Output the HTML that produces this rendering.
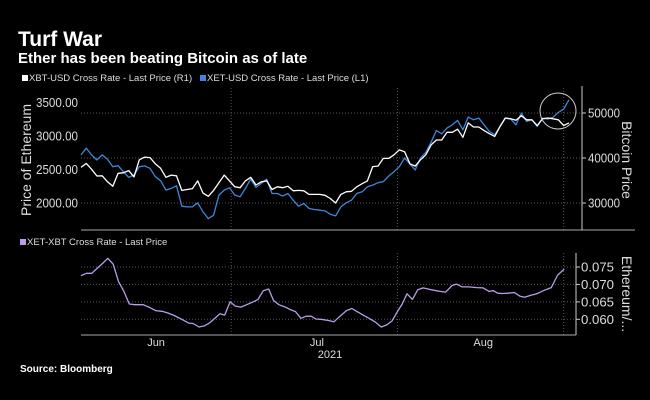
<!DOCTYPE html>
<html><head><meta charset="utf-8"><style>
html,body{margin:0;padding:0;background:#000;}
svg{display:block;font-family:"Liberation Sans","DejaVu Sans",sans-serif;}
</style></head><body>
<svg id="chart" width="650" height="400" viewBox="0 0 650 400" xmlns="http://www.w3.org/2000/svg">
<rect width="650" height="400" fill="#000"/>
<text x="18" y="46" fill="#fff" font-size="21" font-weight="bold">Turf War</text>
<text x="18" y="63" fill="#fff" font-size="15" font-weight="bold">Ether has been beating Bitcoin as of late</text>
<g>
<rect x="22" y="75" width="6" height="6" fill="#fff"/>
<text x="29" y="81" fill="#ddd" font-size="9.5">XBT-USD Cross Rate - Last Price (R1)</text>
<rect x="200" y="75" width="6" height="6" fill="#3d86d8"/>
<text x="207" y="81" fill="#ddd" font-size="9.5">XET-USD Cross Rate - Last Price (L1)</text>
</g>
<g>
<rect x="20" y="239" width="6" height="6" fill="#b89de8"/>
<text x="27" y="245" fill="#ddd" font-size="9.5">XET-XBT Cross Rate - Last Price</text>
</g>
<g id="grid"></g>
<g id="axes"></g>
<g id="series"></g>
<text transform="translate(31,160) rotate(-90)" text-anchor="middle" fill="#ddd" font-size="13.5" textLength="112" lengthAdjust="spacingAndGlyphs">Price of Ethereum</text>
<text transform="translate(622,160) rotate(90)" text-anchor="middle" fill="#ddd" font-size="14">Bitcoin Price</text>
<text transform="translate(622,294) rotate(90)" text-anchor="middle" fill="#ddd" font-size="14">Ethereum/...</text>
<text x="330" y="358" text-anchor="middle" fill="#ddd" font-size="11">2021</text>
<text x="20" y="372" fill="#fff" font-size="10" font-weight="bold">Source: Bloomberg</text>
<ellipse cx="558" cy="111" rx="18" ry="18" fill="none" stroke="#ccc" stroke-width="1"/>
</svg>
<script>
const ethValues=[2710,2810,2710,2635,2710,2645,2535,2550,2460,2375,2410,2535,2545,2510,2385,2325,2185,2210,2250,1945,1935,1935,1995,1860,1760,1810,2110,2185,2220,2110,2085,2210,2350,2225,2285,2350,2135,2135,2095,2135,2035,1945,1985,1910,1895,1885,1875,1825,1800,1935,1995,2035,2135,2160,2235,2260,2295,2310,2395,2460,2535,2665,2575,2485,2665,2750,2900,3075,3025,3110,3160,3225,3085,3275,3235,3260,3160,3060,3010,3135,3260,3245,3160,3335,3210,3235,3135,3260,3245,3275,3345,3395,3535];
const btcValues=[37900,38800,37500,36000,36050,34700,33700,36600,36700,37200,35800,39600,40200,40100,38700,37700,35700,36200,36050,32800,33000,33200,34900,32200,31500,32800,34500,36200,34900,33600,33400,34900,35700,34000,34700,34900,33000,33600,33400,33700,32700,32800,32700,31900,31900,31900,31700,31000,30000,31900,32500,32600,33600,34300,34900,38100,38200,39900,39900,40700,41800,41400,38700,38200,39600,40700,42900,44000,44000,45700,45700,46400,44600,47800,46900,46900,46100,45400,44800,47000,48900,48700,48400,49400,48500,48500,47200,48700,48900,48700,48500,47200,47800];
const ratioDays=[0,1,2,3,4,5,6,7,8,9,10,11.6,12.8,13.9,15.1,16.2,17.4,18.9,20.1,20.9,22,23,24,25.1,25.9,26.8,27.8,28.8,29.8,30.9,32.1,33,34,35,35.9,36.9,38.1,39,40,41,42,42.9,43.8,44.8,46,47.2,48.3,49.5,50.5,51.4,52.6,53.7,54.9,56,57,58,59,59.9,60.8,61.8,62.8,63.8,65.3,66.9,68,69.2,70,71.1,72.3,73.8,75,76.1,76.9,77.7,78.6,79.6,80.8,81.9,82.7,83.9,85,86.2,87.7,88.9,90.1];
const ratioValues=[0.0725,0.0732,0.0732,0.0746,0.076,0.0775,0.0758,0.0708,0.068,0.0644,0.0642,0.0642,0.0634,0.0625,0.0623,0.0618,0.0611,0.0599,0.0589,0.0588,0.0578,0.0581,0.059,0.0605,0.0616,0.0612,0.065,0.0638,0.0635,0.0642,0.065,0.0657,0.0682,0.0687,0.0654,0.0642,0.0635,0.0628,0.0622,0.0603,0.0609,0.0609,0.0601,0.06,0.0597,0.0593,0.0609,0.0625,0.0631,0.0623,0.0612,0.0603,0.0592,0.0578,0.0584,0.0595,0.0622,0.0644,0.0673,0.0657,0.0685,0.069,0.0685,0.068,0.0678,0.0697,0.0701,0.0693,0.0693,0.0691,0.069,0.068,0.0682,0.0675,0.0674,0.0675,0.0677,0.0666,0.0663,0.0669,0.0673,0.0682,0.0691,0.0727,0.0744];
const ethTicks=[3500,3000,2500,2000];
const btcTicks=[50000,40000,30000];
const ratioTicks=[0.075,0.070,0.065,0.060];
const monthLabels=["Jun","Jul","Aug"];
const monthLabelDays=[14,44,75];
const monthGridDays=[28,59,90];

const NS="http://www.w3.org/2000/svg";
const X0=81, X1=569, SPAN=91;
const xDay=d=>X0+(X1-X0)*d/SPAN;
const yEth=v=>102+(3500-v)*33.5/500;
const yBtc=v=>113+(50000-v)*45/10000;
const yRatio=v=>267+(0.075-v)*3487;
function mk(tag,attrs,parent){const e=document.createElementNS(NS,tag);for(const k in attrs)e.setAttribute(k,attrs[k]);parent.appendChild(e);return e;}
const grid=document.getElementById('grid'),axes=document.getElementById('axes'),series=document.getElementById('series');

monthGridDays.forEach(d=>{
  const l1=mk('line',{x1:xDay(d),x2:xDay(d),y1:88,y2:230,stroke:'#555','stroke-dasharray':'1,2'},grid);
  
  
  const l2=mk('line',{x1:xDay(d),x2:xDay(d),y1:253,y2:335,stroke:'#555','stroke-dasharray':'1,2'},grid);
  
  
});
ethTicks.forEach(v=>{
  const y=yEth(v);
  const t=mk('text',{x:78,y:y+5,'text-anchor':'end',fill:'#ddd','font-size':'13',textLength:'42',lengthAdjust:'spacingAndGlyphs'},axes);t.textContent=v.toFixed(2);
  
  
});
btcTicks.forEach(v=>{
  const y=yBtc(v);
  const g=mk('line',{x1:X0,x2:582,y1:y,y2:y,stroke:'#555','stroke-dasharray':'1,2'},grid);
  
  
  mk('line',{x1:582,x2:586,y1:y,y2:y,stroke:'#ccc'},axes);
  const t=mk('text',{x:588,y:y+4.5,fill:'#ddd','font-size':'13',textLength:'32',lengthAdjust:'spacingAndGlyphs'},axes);t.textContent=v;
  
  
});
ratioTicks.forEach(v=>{
  const y=yRatio(v);
  const g=mk('line',{x1:X0,x2:576,y1:y,y2:y,stroke:'#555','stroke-dasharray':'1,2'},grid);
  
  
  mk('line',{x1:576,x2:580,y1:y,y2:y,stroke:'#ccc'},axes);
  const t=mk('text',{x:581,y:y+4.5,fill:'#ddd','font-size':'13',textLength:'33',lengthAdjust:'spacingAndGlyphs'},axes);t.textContent=v.toFixed(3);
  
  
});
monthLabels.forEach((m,i)=>{
  const t=mk('text',{x:xDay(monthLabelDays[i]),y:346,'text-anchor':'middle',fill:'#ddd','font-size':'11'},axes);t.textContent=m;
  
  
});
const a1=mk('line',{x1:582,x2:582,y1:86,y2:230,stroke:'#ccc'},axes);


const a2=mk('line',{x1:X0,x2:635,y1:230,y2:230,stroke:'#aaa'},axes);


const a3=mk('line',{x1:576,x2:576,y1:253,y2:335,stroke:'#ccc'},axes);


const a4=mk('line',{x1:X0,x2:576,y1:335,y2:335,stroke:'#aaa'},axes);



function line(vals,days,yf,color,name){
  const n=vals.length;
  const pts=vals.map((v,i)=>{const d=days?days[i]:i*SPAN/(n-1);return xDay(d).toFixed(1)+','+yf(v).toFixed(1);}).join(' ');
  const p=mk('polyline',{points:pts,fill:'none',stroke:color,'stroke-width':1.3,'stroke-linejoin':'round'},series);
  
  
}
line(ethValues,null,yEth,'#3d86d8','eth-line');
line(btcValues,null,yBtc,'#ffffff','btc-line');
line(ratioValues,ratioDays,yRatio,'#b89de8','ratio-line');
</script>
</body></html>
